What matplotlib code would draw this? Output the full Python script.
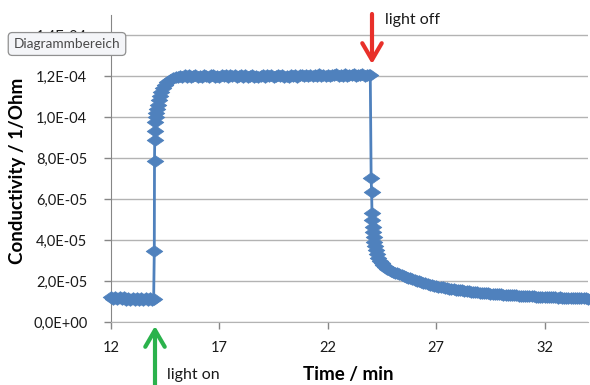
import matplotlib
matplotlib.use("Agg")
import matplotlib.pyplot as plt
import numpy as np
from matplotlib.path import Path
from matplotlib.ticker import FuncFormatter

# conductivity in units of 1e-5 1/Ohm, time in min
# dark phase, logged every 0.1 min
t_dark = [12.0, 12.1, 12.2, 12.3, 12.4, 12.5, 12.6, 12.7, 12.8, 12.9, 13.0,
          13.1, 13.2, 13.3, 13.4, 13.5, 13.6, 13.7, 13.8, 13.9, 13.97]
g_dark = [1.22, 1.14, 1.23, 1.13, 1.20, 1.11, 1.21, 1.10, 1.18, 1.09, 1.19,
          1.10, 1.17, 1.08, 1.16, 1.09, 1.17, 1.07, 1.15, 1.08, 1.12]

# switch-on transient
t_on = [14.00, 14.01, 14.02, 14.03, 14.04, 14.06, 14.08, 14.11, 14.15,
        14.20, 14.26, 14.33, 14.41, 14.50, 14.60, 14.72, 14.86, 15.00]
g_on = [3.47, 7.89, 8.90, 9.35, 9.75, 10.00, 10.20, 10.40, 10.60,
        10.85, 11.05, 11.25, 11.45, 11.60, 11.72, 11.82, 11.90, 11.95]

# illuminated plateau, 15.1 ... 23.9 min
t_lit = [15.1, 15.2, 15.3, 15.4, 15.5, 15.6, 15.7, 15.8, 15.9, 16.0,
         16.1, 16.2, 16.3, 16.4, 16.5, 16.6, 16.7, 16.8, 16.9, 17.0,
         17.1, 17.2, 17.3, 17.4, 17.5, 17.6, 17.7, 17.8, 17.9, 18.0,
         18.1, 18.2, 18.3, 18.4, 18.5, 18.6, 18.7, 18.8, 18.9, 19.0,
         19.1, 19.2, 19.3, 19.4, 19.5, 19.6, 19.7, 19.8, 19.9, 20.0,
         20.1, 20.2, 20.3, 20.4, 20.5, 20.6, 20.7, 20.8, 20.9, 21.0,
         21.1, 21.2, 21.3, 21.4, 21.5, 21.6, 21.7, 21.8, 21.9, 22.0,
         22.1, 22.2, 22.3, 22.4, 22.5, 22.6, 22.7, 22.8, 22.9, 23.0,
         23.1, 23.2, 23.3, 23.4, 23.5, 23.6, 23.7, 23.8, 23.9, 23.96]
g_lit = [11.97, 12.02, 11.95, 12.05, 11.99, 12.06, 11.96, 12.03, 12.07, 11.98,
         12.04, 11.97, 12.06, 12.01, 11.96, 12.05, 12.08, 11.99, 12.03, 11.97,
         12.06, 12.02, 12.08, 11.98, 12.05, 12.00, 12.07, 11.97, 12.04, 12.06,
         11.99, 12.05, 11.96, 12.03, 12.07, 11.98, 12.04, 11.95, 12.02, 12.06,
         11.98, 12.05, 12.01, 12.08, 11.99, 12.04, 12.07, 12.00, 12.06, 11.98,
         12.04, 11.97, 12.06, 12.02, 12.08, 11.99, 12.05, 12.09, 12.01, 12.06,
         12.03, 12.09, 12.00, 12.07, 12.04, 12.10, 12.01, 12.06, 12.03, 12.09,
         12.02, 12.08, 12.05, 12.11, 12.01, 12.07, 12.04, 12.10, 12.03, 12.08,
         12.05, 12.11, 12.03, 12.09, 12.06, 12.12, 12.04, 12.09, 12.07, 12.06]

# switch-off transient
t_off = [24.00, 24.02, 24.04, 24.06, 24.08, 24.10, 24.12, 24.15, 24.18,
         24.22, 24.27, 24.33, 24.40, 24.48, 24.56, 24.65, 24.75, 24.85, 24.93]
g_off = [7.03, 6.37, 5.31, 4.99, 4.66, 4.40, 4.15, 3.93, 3.72,
         3.52, 3.32, 3.15, 3.00, 2.88, 2.78, 2.69, 2.61, 2.54, 2.50]

# dark relaxation, 25.0 ... 34.0 min
t_relax = [25.0, 25.1, 25.2, 25.3, 25.4, 25.5, 25.6, 25.7, 25.8, 25.9,
           26.0, 26.1, 26.2, 26.3, 26.4, 26.5, 26.6, 26.7, 26.8, 26.9,
           27.0, 27.1, 27.2, 27.3, 27.4, 27.5, 27.6, 27.7, 27.8, 27.9,
           28.0, 28.1, 28.2, 28.3, 28.4, 28.5, 28.6, 28.7, 28.8, 28.9,
           29.0, 29.1, 29.2, 29.3, 29.4, 29.5, 29.6, 29.7, 29.8, 29.9,
           30.0, 30.1, 30.2, 30.3, 30.4, 30.5, 30.6, 30.7, 30.8, 30.9,
           31.0, 31.1, 31.2, 31.3, 31.4, 31.5, 31.6, 31.7, 31.8, 31.9,
           32.0, 32.1, 32.2, 32.3, 32.4, 32.5, 32.6, 32.7, 32.8, 32.9,
           33.0, 33.1, 33.2, 33.3, 33.4, 33.5, 33.6, 33.7, 33.8, 33.9, 34.0]
g_relax = [2.46, 2.41, 2.38, 2.33, 2.30, 2.25, 2.22, 2.17, 2.14, 2.09,
           2.05, 2.02, 1.98, 1.96, 1.91, 1.89, 1.85, 1.83, 1.79, 1.78,
           1.75, 1.73, 1.70, 1.69, 1.66, 1.65, 1.62, 1.62, 1.59, 1.58,
           1.57, 1.55, 1.54, 1.52, 1.51, 1.50, 1.48, 1.48, 1.46, 1.45,
           1.44, 1.43, 1.42, 1.41, 1.40, 1.39, 1.38, 1.38, 1.36, 1.36,
           1.35, 1.34, 1.33, 1.33, 1.31, 1.31, 1.30, 1.30, 1.28, 1.29,
           1.28, 1.27, 1.26, 1.27, 1.25, 1.25, 1.24, 1.24, 1.23, 1.23,
           1.22, 1.22, 1.21, 1.21, 1.20, 1.20, 1.19, 1.20, 1.18, 1.19,
           1.18, 1.17, 1.17, 1.17, 1.16, 1.16, 1.15, 1.16, 1.15, 1.15, 1.14]

t = np.array(t_dark + t_on + t_lit + t_off + t_relax)
g = np.array(g_dark + g_on + g_lit + g_off + g_relax) * 1e-5

y_ticks = [0, 2e-5, 4e-5, 6e-5, 8e-5, 1e-4, 1.2e-4, 1.4e-4]
x_ticks = [12, 17, 22, 27, 32]

BLUE = "#4F81BD"
GRID = "#B3B3B3"
plt.rcParams["font.family"] = ["Lato", "DejaVu Sans"]

# Excel-style diamond, a bit wider than tall
diamond = Path([(-1, 0), (0, 0.7), (1, 0), (0, -0.7), (-1, 0)],
               [Path.MOVETO, Path.LINETO, Path.LINETO, Path.LINETO,
                Path.CLOSEPOLY])

fig = plt.figure(figsize=(5.9, 3.85), dpi=100)
ax = fig.add_axes([0.188, 0.1636, 0.8086, 0.7974])
ax.plot(t, g, color=BLUE, lw=2, marker=diamond, ms=12, mfc=BLUE, mec=BLUE,
        mew=0.5, clip_on=False, zorder=3)

ax.set_xlim(12, 34)
ax.set_ylim(0, 1.5e-4)
ax.set_xticks(x_ticks)
ax.set_yticks(y_ticks)
ax.yaxis.set_major_formatter(
    FuncFormatter(lambda v, _: f"{v:.1E}".replace(".", ",")))
ax.grid(axis="y", color=GRID, lw=1)
ax.set_axisbelow(True)
for s in ("top", "right"):
    ax.spines[s].set_visible(False)
ax.spines["left"].set_color("#868686")
ax.spines["bottom"].set_color(GRID)
ax.tick_params(axis="both", colors="#868686", labelcolor="#1a1a1a",
               labelsize=10.5, length=5, width=1)
ax.tick_params(axis="x", pad=9)
ax.tick_params(axis="y", pad=12)

fig.text(0.591, 0.027, "Time / min", ha="center", va="center",
         fontsize=13.5, fontweight="bold")
fig.text(0.03, 0.555, "Conductivity / 1/Ohm", ha="center", va="center",
         rotation=90, fontsize=13.5, fontweight="bold")

# light on / light off markers
fig.text(385 / 590, 1 - 20 / 385, "light off", ha="left", va="center",
         fontsize=11.5, color="#1a1a1a")
fig.text(167 / 590, 1 - 375 / 385, "light on", ha="left", va="center",
         fontsize=11.5, color="#1a1a1a")
ax.annotate("", xy=(372, 385 - 64), xycoords="figure pixels",
            xytext=(372, 385 - 14), textcoords="figure pixels",
            arrowprops=dict(arrowstyle="->,head_length=0.6,head_width=0.35",
                            color="#E8302A", lw=3, mutation_scale=20,
                            shrinkA=0, shrinkB=0))
ax.annotate("", xy=(155, 385 - 326), xycoords="figure pixels",
            xytext=(155, -5), textcoords="figure pixels",
            arrowprops=dict(arrowstyle="->,head_length=0.6,head_width=0.35",
                            color="#2BB24C", lw=3, mutation_scale=20,
                            shrinkA=0, shrinkB=0))

# chart-area tooltip
fig.text(67 / 590, 1 - 44 / 385, "Diagrammbereich", ha="center", va="center",
         fontsize=9.8, color="#4a4a4a", zorder=10,
         bbox=dict(boxstyle="round,pad=0.4,rounding_size=0.3",
                   fc="#F4F5F8", ec="#909090", lw=0.9))

fig.savefig("out.png", dpi=100)
